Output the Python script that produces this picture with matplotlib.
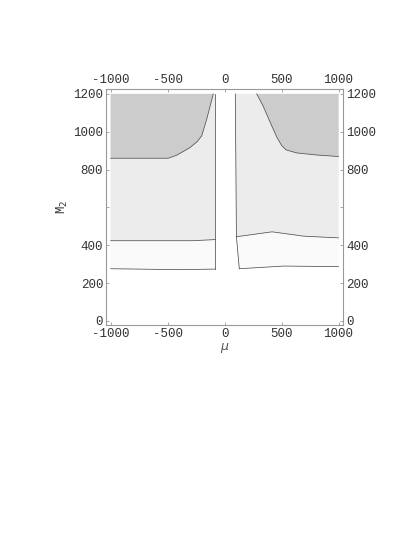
import matplotlib
matplotlib.use("Agg")
import matplotlib.pyplot as plt
import numpy as np

# region boundaries (mu, M2)
mu_left_dark = [-1000, -494, -420, -304, -240, -201, -157, -99]
m2_left_dark = [860, 860, 876, 916, 948, 978, 1066, 1200]
mu_left_mid = [-1000, -280, -82]
m2_left_mid = [424, 424, 430]
mu_left_low = [-1000, -400, -82]
m2_left_low = [276, 271, 274]

mu_right_edge = [94, 104, 129]
m2_right_edge = [1200, 445, 276]
mu_right_dark = [282, 338, 414, 460, 500, 540, 633, 809, 1000]
m2_right_dark = [1200, 1136, 1031, 970, 928, 904, 888, 877, 869]
mu_right_mid = [104, 417, 696, 1000]
m2_right_mid = [445, 471, 448, 439]
mu_right_low = [129, 520, 1000]
m2_right_low = [276, 290, 287]

x_ticks = [-1000, -500, 0, 500, 1000]
y_ticks = [0, 200, 400, 600, 800, 1000, 1200]
y_labels = ["0", "200", "400", "", "800", "1000", "1200"]

c_dark = "#cccccc"
c_mid = "#ececec"
c_low = "#fafafa"
c_line = "#505050"
lw = 0.55

plt.rcParams['font.family'] = ['Liberation Mono', 'DejaVu Sans Mono']
fig = plt.figure(figsize=(4.15, 5.37), dpi=100)
ax = fig.add_axes([0.2554, 0.3953, 0.5718, 0.4390])

# left side
x_lo = mu_left_low[-1]
ax.fill(mu_left_low + [x_lo, -1000], m2_left_low + [1200, 1200], color=c_low, lw=0)
ax.fill(mu_left_mid + [x_lo, -1000], m2_left_mid + [1200, 1200], color=c_mid, lw=0)
ax.fill(mu_left_dark + [-1000], m2_left_dark + [1200], color=c_dark, lw=0)
ax.plot(mu_left_low, m2_left_low, color=c_line, lw=lw)
ax.plot(mu_left_mid, m2_left_mid, color=c_line, lw=lw)
ax.plot(mu_left_dark, m2_left_dark, color=c_line, lw=lw)
ax.plot([x_lo, x_lo], [m2_left_low[-1], 1200], color=c_line, lw=lw)

# right side
ax.fill(mu_right_edge + mu_right_low[1:] + [1000], m2_right_edge + m2_right_low[1:] + [1200],
        color=c_low, lw=0)
ax.fill(mu_right_edge[:2] + mu_right_mid[1:] + [1000], m2_right_edge[:2] + m2_right_mid[1:] + [1200],
        color=c_mid, lw=0)
ax.fill(mu_right_dark + [1000], m2_right_dark + [1200], color=c_dark, lw=0)
ax.plot(mu_right_edge, m2_right_edge, color=c_line, lw=lw)
ax.plot(mu_right_mid, m2_right_mid, color=c_line, lw=lw)
ax.plot(mu_right_low, m2_right_low, color=c_line, lw=lw)
ax.plot(mu_right_dark, m2_right_dark, color=c_line, lw=lw)

ax.set_xlim(-1041, 1042)
ax.set_ylim(-20, 1226)

for s in ax.spines.values():
    s.set_color("#999999")
    s.set_linewidth(0.8)

ax.set_xticks(x_ticks)
ax.set_xticklabels([str(t) for t in x_ticks])
ax.set_yticks(y_ticks)
ax.set_yticklabels(y_labels)
ax.tick_params(direction="in", length=2, width=0.6, color="#999999",
               labelsize=9, labelcolor="#333333", pad=2,
               top=True, right=True, labeltop=True, labelright=True)

ax.set_xlabel(r"$\mu$", fontsize=9, color="#555555", labelpad=1)
ax.set_ylabel(r"M$_2$", fontsize=9, color="#333333", labelpad=2)

fig.savefig("out.png", dpi=100)
